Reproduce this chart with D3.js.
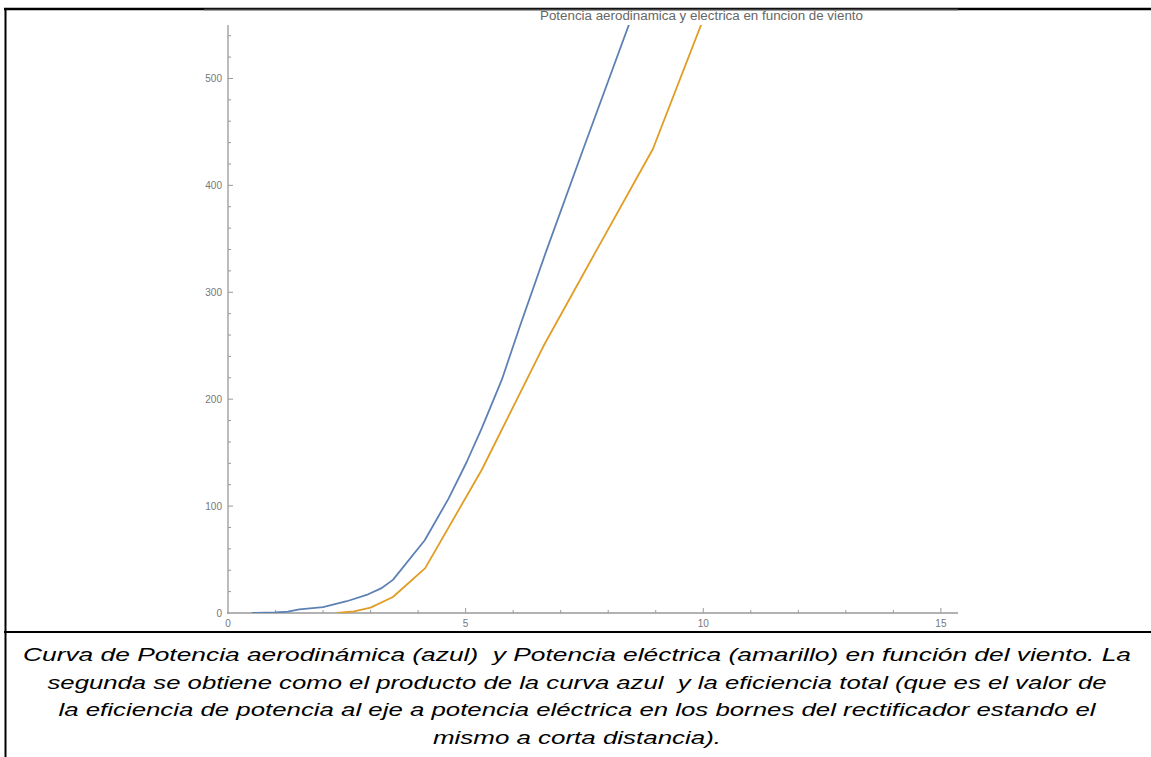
<!DOCTYPE html>
<html>
<head>
<meta charset="utf-8">
<script src="https://cdn.jsdelivr.net/npm/d3@7"></script>
<style>
  body { margin: 0; background: #fff; }
  svg { display: block; }
  text.caption { white-space: pre; }
</style>
</head>
<body>
<div id="chart"></div>
<script>
// wind speed (m/s) and power (W)
const aeroWind = [0.5, 1.0, 1.26, 1.5, 2.0, 2.5, 2.95, 3.22, 3.47, 4.14, 4.64, 5.02, 5.34, 5.76, 6.14, 6.7, 7.5, 8.45];
const aeroPower = [0, 0.5, 1.2, 3.3, 5.5, 11, 17.5, 23, 31, 68, 107, 141, 173, 218, 268, 339, 437, 552];
const elecWind = [2.3, 2.65, 3.0, 3.47, 4.15, 5.34, 6.63, 7.75, 8.94, 9.97];
const elecPower = [0, 1.5, 5, 15, 42, 134, 249, 339, 434, 552];
const xTicks = [0, 5, 10, 15];
const yTicks = [0, 100, 200, 300, 400, 500];
const title = 'Potencia aerodinamica y electrica en funcion de viento';
const captionLines = [
  'Curva de Potencia aerodinámica (azul)  y Potencia eléctrica (amarillo) en función del viento. La',
  'segunda se obtiene como el producto de la curva azul  y la eficiencia total (que es el valor de',
  'la eficiencia de potencia al eje a potencia eléctrica en los bornes del rectificador estando el',
  'mismo a corta distancia).'
];
// the picture is stretched sideways, so each caption line gets its measured width
const captionWidths = [1108, 1059, 1037, 288];

const width = 1151, height = 757;
const svg = d3.select('#chart').append('svg').attr('width', width).attr('height', height);

// plot area
const x = d3.scaleLinear().domain([0, 15.36]).range([228, 958]);
const y = d3.scaleLinear().domain([0, 550]).range([613, 25]);

svg.append('defs').append('clipPath').attr('id', 'plotclip')
  .append('rect').attr('x', 228).attr('y', 25).attr('width', 730).attr('height', 588);

// frame of the table cell
svg.append('line').attr('x1', 4).attr('x2', width).attr('y1', 9).attr('y2', 9)
  .attr('stroke', '#000').attr('stroke-width', 2.5);
svg.append('line').attr('x1', 204).attr('x2', 958).attr('y1', 9.5).attr('y2', 9.5)
  .attr('stroke', '#444').attr('stroke-width', 1.5);
svg.append('line').attr('x1', 5.5).attr('x2', 5.5).attr('y1', 8).attr('y2', height)
  .attr('stroke', '#000').attr('stroke-width', 2);
svg.append('line').attr('x1', 4).attr('x2', width).attr('y1', 632).attr('y2', 632)
  .attr('stroke', '#000').attr('stroke-width', 2);

// axes, ticks pointing into the plot like Mathematica
const axisColor = '#999';
const labelColor = '#777';

const xAxis = svg.append('g').attr('transform', 'translate(0,613)');
xAxis.append('line').attr('x1', 227).attr('x2', 958).attr('stroke', axisColor).attr('stroke-width', 1.3);
xAxis.selectAll('.minor').data(d3.range(1, 16)).join('line')
  .attr('x1', d => x(d)).attr('x2', d => x(d))
  .attr('y1', 0).attr('y2', d => (d % 5 === 0 ? -5 : -3))
  .attr('stroke', axisColor);
xAxis.selectAll('text').data(xTicks).join('text')
  .attr('x', d => x(d)).attr('y', 14)
  .attr('text-anchor', 'middle')
  .attr('font-family', 'Liberation Sans, Arial, sans-serif').attr('font-size', 10)
  .attr('fill', labelColor)
  .text(d => d);

const yAxis = svg.append('g').attr('transform', 'translate(228,0)');
yAxis.append('line').attr('y1', 614).attr('y2', 25).attr('stroke', axisColor).attr('stroke-width', 1.3);
yAxis.selectAll('.minor').data(d3.range(20, 560, 20)).join('line')
  .attr('y1', d => y(d)).attr('y2', d => y(d))
  .attr('x1', 0).attr('x2', d => (d % 100 === 0 ? 5 : 3))
  .attr('stroke', axisColor);
yAxis.selectAll('text').data(yTicks).join('text')
  .attr('x', -6).attr('y', d => y(d) + 3.5)
  .attr('text-anchor', 'end')
  .attr('font-family', 'Liberation Sans, Arial, sans-serif').attr('font-size', 10)
  .attr('fill', labelColor)
  .text(d => d);

// curves
const line = d3.line().x(d => x(d[0])).y(d => y(d[1]));
const plot = svg.append('g').attr('clip-path', 'url(#plotclip)');
plot.append('path').datum(d3.zip(aeroWind, aeroPower))
  .attr('d', line).attr('fill', 'none')
  .attr('stroke', '#5e81b5').attr('stroke-width', 1.8).attr('stroke-linejoin', 'round');
plot.append('path').datum(d3.zip(elecWind, elecPower))
  .attr('d', line).attr('fill', 'none')
  .attr('stroke', '#e19c24').attr('stroke-width', 1.8).attr('stroke-linejoin', 'round');

// title
svg.append('text').attr('x', 701.5).attr('y', 20).attr('text-anchor', 'middle')
  .attr('font-family', 'Liberation Sans, Arial, sans-serif').attr('font-size', 12)
  .attr('textLength', 323).attr('lengthAdjust', 'spacingAndGlyphs')
  .attr('fill', '#666').text(title);

// caption below the chart
svg.append('g').selectAll('text').data(captionLines).join('text')
  .attr('class', 'caption')
  .attr('x', 577).attr('y', (d, i) => 661 + i * 27.7)
  .attr('text-anchor', 'middle')
  .attr('font-family', 'Liberation Sans, Arial, sans-serif')
  .attr('font-style', 'italic').attr('font-size', 18.5)
  .attr('textLength', (d, i) => captionWidths[i]).attr('lengthAdjust', 'spacingAndGlyphs')
  .attr('fill', '#000')
  .text(d => d);
</script>
</body>
</html>
